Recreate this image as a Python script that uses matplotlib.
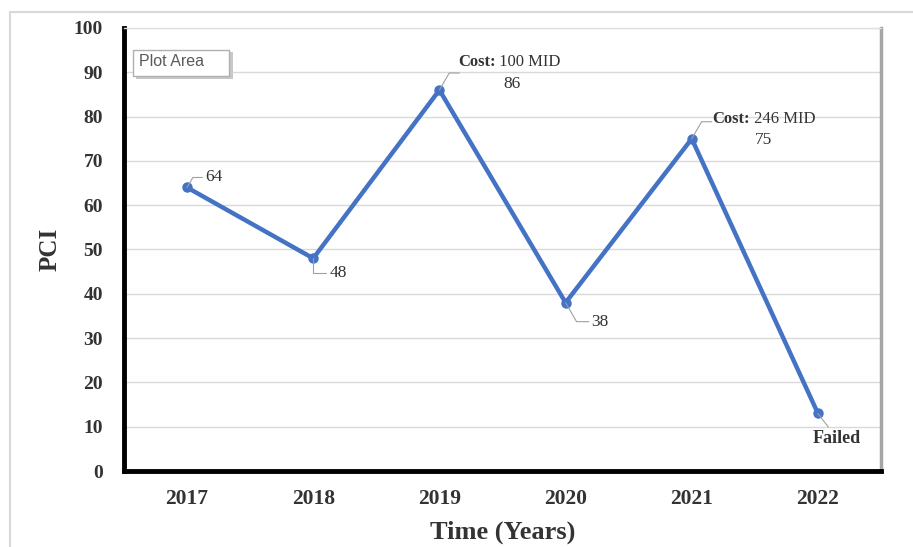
import numpy as np
import matplotlib
matplotlib.use("Agg")
import matplotlib.pyplot as plt
from matplotlib.patches import Rectangle

years = ["2017", "2018", "2019", "2020", "2021", "2022"]
pci = [64, 48, 86, 38, 75, 13]
costs = {2: "100 MID", 4: "246 MID"}
yticks = [0, 10, 20, 30, 40, 50, 60, 70, 80, 90, 100]

serif = "Liberation Serif"
blue = "#4472C4"
txt = "#333333"

fig = plt.figure(figsize=(9.13, 5.47), dpi=100)
fig.patch.set_facecolor("white")

# outer chart border (light gray)
fig.add_artist(Rectangle((10 / 913, -0.05), 1.2, 1 - 12 / 547 + 0.05,
                         transform=fig.transFigure, fill=False,
                         edgecolor="#d9d9d9", lw=1.5))

ax = fig.add_axes([124 / 913, 1 - 471 / 547, (881 - 124) / 913, (471 - 28) / 547])
x = np.arange(len(years))

ax.plot(x, pci, color=blue, lw=3.2, marker="o", ms=6.5, zorder=3,
        solid_joinstyle="round")

ax.set_xlim(-0.5, len(years) - 0.5)
ax.set_ylim(0, 100)
ax.set_yticks(yticks)
ax.set_xticks(x)
ax.set_xticklabels(years)
ax.grid(axis="y", color="#d9d9d9", lw=1)
ax.set_axisbelow(True)
ax.tick_params(length=0)
ax.tick_params(axis="x", pad=13)
ax.tick_params(axis="y", pad=15)
for lab in ax.get_xticklabels():
    lab.set_fontfamily(serif)
    lab.set_fontweight("bold")
    lab.set_fontsize(15.5)
    lab.set_color(txt)
for lab in ax.get_yticklabels():
    lab.set_fontfamily(serif)
    lab.set_fontweight("bold")
    lab.set_fontsize(14)
    lab.set_color(txt)

ax.spines["left"].set_linewidth(3.5)
ax.spines["bottom"].set_linewidth(3.5)
ax.spines["left"].set_color("black")
ax.spines["bottom"].set_color("black")
ax.spines["right"].set_color("#a6a6a6")
ax.spines["right"].set_linewidth(2.5)
ax.spines["top"].set_color("#e0e0e0")
ax.spines["top"].set_linewidth(1)

ax.set_ylabel("PCI", fontfamily=serif, fontweight="bold", fontsize=18,
              color=txt, labelpad=9)
ax.set_xlabel("Time (Years)", fontfamily=serif, fontweight="bold", fontsize=19,
              color=txt, labelpad=8)

lead = dict(arrowstyle="-", color="#a0a0a0", lw=0.8, shrinkA=0, shrinkB=0)
tkw = dict(fontfamily=serif, fontsize=12.5, color=txt)

# plain value labels
ax.annotate("64", xy=(0, pci[0]), xytext=(18, 10), textcoords="offset pixels",
            ha="left", va="center",
            arrowprops={**lead, "connectionstyle": "angle,angleA=0,angleB=60,rad=0"}, **tkw)
ax.annotate("48", xy=(1, pci[1]), xytext=(16, -15), textcoords="offset pixels",
            ha="left", va="center",
            arrowprops={**lead, "connectionstyle": "angle,angleA=0,angleB=90,rad=0"}, **tkw)
ax.annotate("38", xy=(3, pci[3]), xytext=(26, -19), textcoords="offset pixels",
            ha="left", va="center",
            arrowprops={**lead, "connectionstyle": "angle,angleA=0,angleB=-60,rad=0"}, **tkw)
ax.annotate("Failed", xy=(5, pci[5]), xytext=(19, -25), textcoords="offset pixels",
            ha="center", va="center", fontweight="bold", arrowprops=lead,
            fontfamily=serif, fontsize=13, color=txt)

# cost labels
for i, c in costs.items():
    dx = 72 if i == 2 else 74
    dy = 28 if i == 2 else 20
    ax.annotate("", xy=(i, pci[i]), xytext=(20, 17), textcoords="offset pixels",
                arrowprops={**lead, "connectionstyle": "angle,angleA=0,angleB=60,rad=0"})
    ax.annotate("Cost:", xy=(i, pci[i]), xytext=(dx - 16, dy),
                textcoords="offset pixels", ha="right", va="center",
                fontweight="bold", fontfamily=serif, fontsize=12, color=txt)
    ax.annotate(" " + c, xy=(i, pci[i]), xytext=(dx - 16, dy),
                textcoords="offset pixels", ha="left", va="center",
                fontfamily=serif, fontsize=12, color=txt)
    ax.annotate(str(pci[i]), xy=(i, pci[i]),
                xytext=(73 if i == 2 else 72, 6 if i == 2 else -1),
                textcoords="offset pixels", ha="center", va="center", **tkw)

# "Plot Area" tooltip box with a soft shadow
fig.add_artist(Rectangle((136 / 913, 1 - 79 / 547), 97 / 913, 27 / 547,
                         transform=fig.transFigure, fc="#c8c8c8", ec="none"))
fig.add_artist(Rectangle((133 / 913, 1 - 76 / 547), 96 / 913, 26 / 547,
                         transform=fig.transFigure, fc="white", ec="#b0b0b0", lw=1))
fig.text(139 / 913, 1 - 62 / 547, "Plot Area", fontsize=11.5, color="#5a5a5a",
         fontfamily="Liberation Sans", ha="left", va="center")

fig.savefig("out.png", dpi=100)
